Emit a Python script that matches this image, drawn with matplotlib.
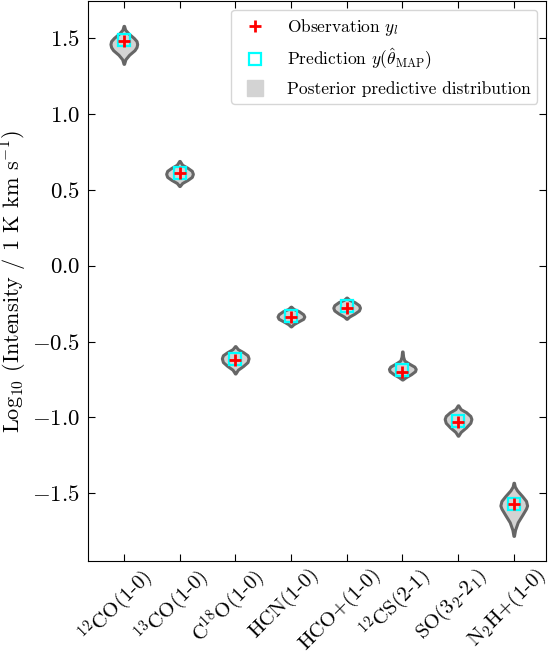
import matplotlib
matplotlib.use("Agg")
import matplotlib.pyplot as plt
import matplotlib.transforms as mtransforms
from matplotlib.lines import Line2D
from matplotlib.ticker import FuncFormatter

plt.rcParams["font.family"] = "serif"
plt.rcParams["font.serif"] = ["cmr10"]
plt.rcParams["mathtext.fontset"] = "cm"
plt.rcParams["axes.formatter.use_mathtext"] = True

# molecular lines
lines = ["$^{12}$CO(1-0)", "$^{13}$CO(1-0)", "C$^{18}$O(1-0)", "HCN(1-0)",
         "HCO+(1-0)", "$^{12}$CS(2-1)", "SO(3$_2$-2$_1$)", "N$_2$H+(1-0)"]

# observed and MAP-predicted log10 intensities
observed = [1.48, 0.61, -0.62, -0.335, -0.277, -0.70, -1.027, -1.572]
predicted = [1.485, 0.61, -0.615, -0.33, -0.265, -0.69, -1.02, -1.57]

# posterior predictive density profiles
violin_y = [
    [1.33, 1.36, 1.39, 1.42, 1.44, 1.46, 1.48, 1.50, 1.53, 1.555, 1.58],
    [0.525, 0.545, 0.565, 0.585, 0.605, 0.625, 0.645, 0.665, 0.69],
    [-0.71, -0.685, -0.66, -0.635, -0.61, -0.59, -0.57, -0.55, -0.53],
    [-0.40, -0.385, -0.365, -0.35, -0.335, -0.32, -0.30, -0.285, -0.27],
    [-0.35, -0.335, -0.315, -0.295, -0.277, -0.26, -0.24, -0.225, -0.21],
    [-0.75, -0.735, -0.715, -0.695, -0.68, -0.665, -0.645, -0.625, -0.60, -0.565],
    [-1.12, -1.095, -1.065, -1.035, -1.01, -0.99, -0.965, -0.945, -0.92],
    [-1.78, -1.74, -1.69, -1.64, -1.60, -1.58, -1.55, -1.52, -1.48, -1.455, -1.43],
]
violin_density = [
    [0.02, 0.12, 0.40, 0.80, 0.95, 1.0, 0.95, 0.75, 0.35, 0.10, 0.02],
    [0.02, 0.20, 0.60, 0.92, 1.0, 0.92, 0.60, 0.20, 0.02],
    [0.02, 0.20, 0.60, 0.92, 1.0, 0.92, 0.60, 0.20, 0.02],
    [0.02, 0.20, 0.60, 0.92, 1.0, 0.92, 0.60, 0.20, 0.02],
    [0.02, 0.20, 0.60, 0.92, 1.0, 0.92, 0.60, 0.20, 0.02],
    [0.02, 0.25, 0.65, 0.95, 1.0, 0.90, 0.50, 0.15, 0.06, 0.02],
    [0.02, 0.20, 0.60, 0.92, 1.0, 0.92, 0.60, 0.20, 0.02],
    [0.02, 0.10, 0.30, 0.65, 0.92, 1.0, 0.92, 0.65, 0.25, 0.08, 0.02],
]

x = list(range(len(lines)))

fig = plt.figure(figsize=(5.51, 6.53), dpi=100)
ax = fig.add_axes([0.16, 0.141, 0.831, 0.857])

vpstats = []
for ys, ds in zip(violin_y, violin_density):
    vpstats.append({"coords": ys, "vals": ds, "mean": ys[len(ys) // 2],
                    "median": ys[len(ys) // 2], "min": ys[0], "max": ys[-1]})
parts = ax.violin(vpstats, positions=x, widths=0.48, showmeans=False,
                  showextrema=False, showmedians=False)
for body in parts["bodies"]:
    body.set_facecolor("lightgray")
    body.set_edgecolor("#666666")
    body.set_linewidth(2.2)
    body.set_alpha(1)

ax.plot(x, predicted, "s", ms=9, mfc="none", mec="cyan", mew=1.6, ls="none")
ax.plot(x, observed, "+", ms=9, color="red", mew=2, ls="none")

ax.set_xlim(-0.64, 7.58)
ax.set_ylim(-1.945, 1.742)
ax.set_xticks(x)
ax.yaxis.set_major_formatter(FuncFormatter(lambda v, p: f"${v:.1f}$"))
ax.tick_params(axis="y", labelsize=16.5, pad=6)
ax.tick_params(axis="x", pad=2)
ax.tick_params(direction="in", top=True, right=True, length=5)
ax.set_xticklabels(lines, rotation=45, fontsize=15)
# nudge the rotated labels a little to the left (after tick_params, which resets transforms)
shift = mtransforms.ScaledTranslation(-5 / 72, 0, fig.dpi_scale_trans)
for lab in ax.get_xticklabels():
    lab.set_transform(lab.get_transform() + shift)
ax.set_ylabel(r"Log$_{10}$ (Intensity / 1 K km s$^{-1}$)", fontsize=16, labelpad=2)

handles = [
    Line2D([], [], marker="+", color="red", ms=9, mew=2, ls="none"),
    Line2D([], [], marker="s", mfc="none", mec="cyan", ms=9, mew=1.6, ls="none"),
    Line2D([], [], marker="s", color="lightgray", ms=12, ls="none"),
]
labels = ["Observation $y_l$", r"Prediction $y(\hat{\theta}_{\rm MAP})$",
          "Posterior predictive distribution"]
ax.legend(handles, labels, loc="upper right", fontsize=12.5)

fig.savefig("out.png", dpi=100)
